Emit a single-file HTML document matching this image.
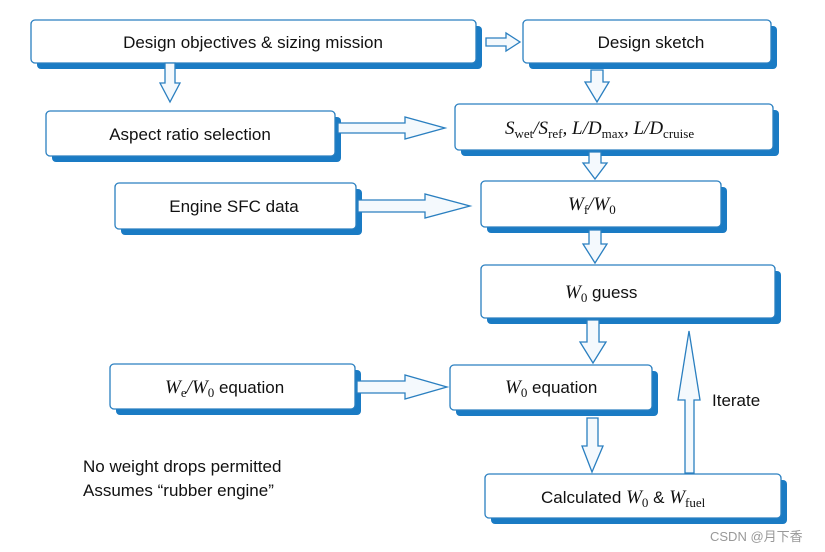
<!DOCTYPE html>
<html><head><meta charset="utf-8"><style>
body{margin:0;background:#fff;}
svg{display:block;}
text{font-family:"Liberation Sans",sans-serif;font-size:17px;fill:#111;}
.m{font-family:"Liberation Serif",serif;font-style:italic;font-size:19px;}
.s{font-family:"Liberation Serif",serif;font-size:13px;}
</style></head><body>
<svg width="825" height="552" viewBox="0 0 825 552">
<g fill="#1a7bc4">
<rect x="37" y="26" width="445" height="43" rx="4"/>
<rect x="529" y="26" width="248" height="43" rx="4"/>
<rect x="52" y="117" width="289" height="45" rx="4"/>
<rect x="461" y="110" width="318" height="46" rx="4"/>
<rect x="121" y="189" width="241" height="46" rx="4"/>
<rect x="487" y="187" width="240" height="46" rx="4"/>
<rect x="487" y="271" width="294" height="53" rx="4"/>
<rect x="116" y="370" width="245" height="45" rx="4"/>
<rect x="456" y="371" width="202" height="45" rx="4"/>
<rect x="491" y="480" width="296" height="44" rx="4"/>
</g>
<g fill="#fff" stroke="#2a7fc0" stroke-width="1.3">
<rect x="31" y="20" width="445" height="43" rx="4"/>
<rect x="523" y="20" width="248" height="43" rx="4"/>
<rect x="46" y="111" width="289" height="45" rx="4"/>
<rect x="455" y="104" width="318" height="46" rx="4"/>
<rect x="115" y="183" width="241" height="46" rx="4"/>
<rect x="481" y="181" width="240" height="46" rx="4"/>
<rect x="481" y="265" width="294" height="53" rx="4"/>
<rect x="110" y="364" width="245" height="45" rx="4"/>
<rect x="450" y="365" width="202" height="45" rx="4"/>
<rect x="485" y="474" width="296" height="44" rx="4"/>
</g>
<g fill="#f4f9fd" stroke="#2a7fc0" stroke-width="1.3" stroke-linejoin="miter">
<polygon points="486,38 506,38 506,33 520,42 506,51 506,46 486,46"/>
<polygon points="338,123 405,123 405,117 445,128 405,139 405,133 338,133"/>
<polygon points="358,200 425,200 425,194 470,206 425,218 425,212 358,212"/>
<polygon points="357,381 405,381 405,375 447,387 405,399 405,393 357,393"/>
<polygon points="165,63 175,63 175,83 180,83 170,102 160,83 165,83"/>
<polygon points="591,70 603,70 603,82 609,82 597,102 585,82 591,82"/>
<polygon points="589,152 601,152 601,163 607,163 595,179 583,163 589,163"/>
<polygon points="589,230 601,230 601,244 607,244 595,263 583,244 589,244"/>
<polygon points="587,320 599,320 599,342 606,342 593,363 580,342 587,342"/>
<polygon points="587,418 598,418 598,446 603,446 592,472 582,446 587,446"/>
<polygon points="685,473 694,473 694,400 700,400 689,331 678,400 685,400"/>
</g>
<text x="253" y="48" text-anchor="middle">Design objectives &amp; sizing mission</text>
<text x="651" y="48" text-anchor="middle">Design sketch</text>
<text x="190" y="140" text-anchor="middle">Aspect ratio selection</text>
<text x="234" y="212" text-anchor="middle">Engine SFC data</text>
<text x="505" y="134"><tspan class="m">S</tspan><tspan class="s" dy="4">wet</tspan><tspan class="m" dy="-4">/S</tspan><tspan class="s" dy="4">ref</tspan><tspan class="m" dy="-4">, L/D</tspan><tspan class="s" dy="4">max</tspan><tspan class="m" dy="-4">, L/D</tspan><tspan class="s" dy="4">cruise</tspan></text>
<text x="568" y="210"><tspan class="m">W</tspan><tspan class="s" dy="4">f</tspan><tspan class="m" dy="-4">/W</tspan><tspan class="s" dy="4">0</tspan></text>
<text x="565" y="298"><tspan class="m">W</tspan><tspan class="s" dy="4">0</tspan><tspan dy="-4"> guess</tspan></text>
<text x="165" y="393"><tspan class="m">W</tspan><tspan class="s" dy="4">e</tspan><tspan class="m" dy="-4">/W</tspan><tspan class="s" dy="4">0</tspan><tspan dy="-4"> equation</tspan></text>
<text x="505" y="393"><tspan class="m">W</tspan><tspan class="s" dy="4">0</tspan><tspan dy="-4"> equation</tspan></text>
<text x="541" y="503">Calculated <tspan class="m">W</tspan><tspan class="s" dy="4">0</tspan><tspan dy="-4"> &amp; </tspan><tspan class="m">W</tspan><tspan class="s" dy="4">fuel</tspan></text>
<text x="712" y="406">Iterate</text>
<text x="83" y="472">No weight drops permitted</text>
<text x="83" y="496">Assumes “rubber engine”</text>
<text x="710" y="541" style="font-size:13px;fill:#999;font-family:'Liberation Sans','Noto Sans CJK SC',sans-serif">CSDN @月下香</text>
</svg>
</body></html>
